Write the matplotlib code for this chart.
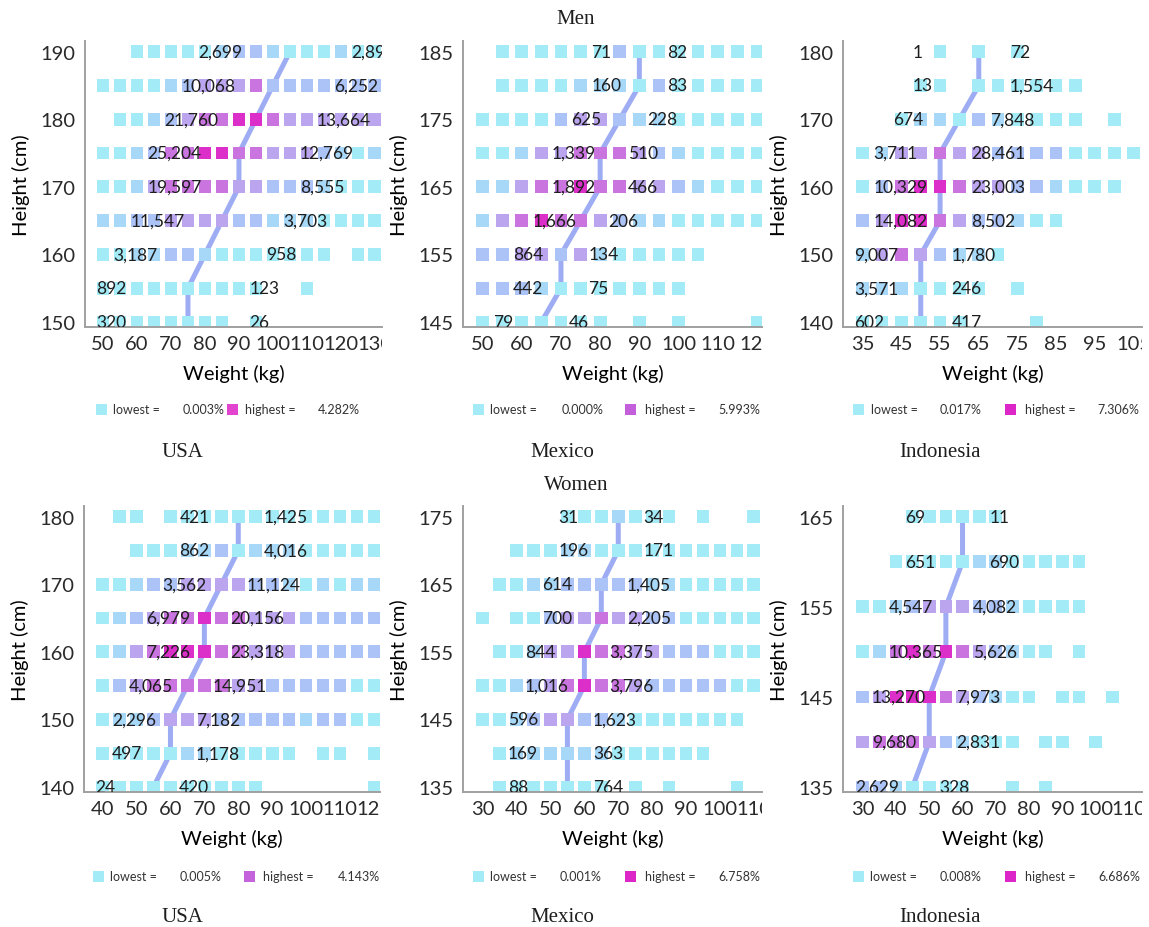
import matplotlib
matplotlib.use("Agg")
import matplotlib.pyplot as plt
from matplotlib.patches import Rectangle

W, H = 1149, 928

# ---- data ----
# cell strings: one char per weight column, '.' = no square, 0..5 = colour level (cyan -> magenta)

usa_men_heights = [190, 185, 180, 175, 170, 165, 160, 155, 150]
usa_men_weights = [50, 55, 60, 65, 70, 75, 80, 85, 90, 95, 100, 105, 110, 115, 120, 125, 130]
usa_men_cells = [
    "..000001221000100",
    "00001233342222222",
    ".0012344554333333",
    "00124455443332101",
    "00134444332221000",
    "11223333221110000",
    "00112210000000.00",
    "0000000000..0....",
    "00000000.0.......",
]
usa_men_median = [105, 100, 95, 90, 90, 85, 80, 75, 75]
usa_men_left = ["2,699", "10,068", "21,760", "25,204", "19,597", "11,547", "3,187", "892", "320"]
usa_men_right = ["2,890", "6,252", "13,664", "12,769", "8,555", "3,703", "958", "123", "26"]
usa_men_range = ["0.003%", "4.282%"]

mex_men_heights = [185, 180, 175, 170, 165, 160, 155, 150, 145]
mex_men_weights = [50, 55, 60, 65, 70, 75, 80, 85, 90, 95, 100, 105, 110, 115, 120]
mex_men_cells = [
    ".00000020000000",
    ".00001110200000",
    "000023321100000",
    "001334443210000",
    "113445443321000",
    "134544321100000",
    "223323100000...",
    "22210000000....",
    "0000000.0.0...0",
]
mex_men_median = [90, 90, 85, 80, 80, 75, 70, 70, 65]
mex_men_left = ["71", "160", "625", "1,339", "1,892", "1,666", "864", "442", "79"]
mex_men_right = ["82", "83", "228", "510", "466", "206", "134", "75", "46"]
mex_men_range = ["0.000%", "5.993%"]

idn_men_heights = [180, 175, 170, 165, 160, 155, 150, 145, 140]
idn_men_weights = [35, 40, 45, 50, 55, 60, 65, 70, 75, 80, 85, 90, 95, 100, 105]
idn_men_cells = [
    "....0.0.0......",
    "...00.000000...",
    "..0110210000.0.",
    "013343322220000",
    "02455433221000.",
    "23554322100....",
    "13432110.......",
    "1110000.0......",
    "000000...0.....",
]
idn_men_median = [65, 65, 60, 55, 55, 55, 50, 50, 50]
idn_men_left = ["1", "13", "674", "3,711", "10,329", "14,082", "9,007", "3,571", "602"]
idn_men_right = ["72", "1,554", "7,848", "28,461", "23,003", "8,502", "1,780", "246", "417"]
idn_men_range = ["0.017%", "7.306%"]

usa_wom_heights = [180, 175, 170, 165, 160, 155, 150, 145, 140]
usa_wom_weights = [40, 45, 50, 55, 60, 65, 70, 75, 80, 85, 90, 95, 100, 105, 110, 115, 120]
usa_wom_cells = [
    ".00.0000000000000",
    "..000112011100000",
    "00122333322101011",
    "01234454433322222",
    "01345554433322222",
    "02344444332222200",
    "01123332222212200",
    "000001100000.00.0",
    "0000000000......0",
]
usa_wom_median = [80, 80, 75, 70, 70, 65, 60, 60, 55]
usa_wom_left = ["421", "862", "3,562", "6,979", "7,226", "4,065", "2,296", "497", "24"]
usa_wom_right = ["1,425", "4,016", "11,124", "20,156", "23,318", "14,951", "7,182", "1,178", "420"]
usa_wom_range = ["0.005%", "4.143%"]

mex_wom_heights = [175, 170, 165, 160, 155, 150, 145, 140, 135]
mex_wom_weights = [30, 35, 40, 45, 50, 55, 60, 65, 70, 75, 80, 85, 90, 95, 100, 105, 110]
mex_wom_cells = [
    ".....0001000.0..0",
    "..000110000000000",
    ".0011222221100000",
    "0.002334332200000",
    ".0013354433222000",
    "00123454432222200",
    "0012332210000000.",
    ".0111111000000...",
    ".0000000.0.0...0.",
]
mex_wom_median = [70, 70, 65, 65, 60, 60, 55, 55, 55]
mex_wom_left = ["31", "196", "614", "700", "844", "1,016", "596", "169", "88"]
mex_wom_right = ["34", "171", "1,405", "2,205", "3,375", "3,796", "1,623", "363", "764"]
mex_wom_range = ["0.001%", "6.758%"]

idn_wom_heights = [165, 160, 155, 150, 145, 140, 135]
idn_wom_weights = [30, 35, 40, 45, 50, 55, 60, 65, 70, 75, 80, 85, 90, 95, 100, 105, 110]
idn_wom_cells = [
    "...000000........",
    "..000001100000...",
    "00123332210000...",
    "014545432100.0...",
    "23555432100.00.0.",
    "3444321000.00.0..",
    "2210000..0.0.....",
]
idn_wom_median = [60, 60, 55, 55, 50, 50, 45]
idn_wom_left = ["69", "651", "4,547", "10,365", "13,270", "9,680", "2,629"]
idn_wom_right = ["11", "690", "4,082", "5,626", "7,973", "2,831", "328"]
idn_wom_range = ["0.008%", "6.686%"]

# ---- styling ----
LEVELS = ["#a4ebf8", "#a8d8f8", "#abc3f6", "#bba5ee", "#c974df", "#dc2ec8"]
LINE = "#9eacf4"
SANS = ["Lato", "DejaVu Sans"]
SERIF = ["Liberation Serif", "DejaVu Serif"]
plt.rcParams["font.family"] = SANS
plt.rcParams["text.color"] = "#1e1e1e"


def px_box(x0, y0, x1, y1):
    return [x0 / W, 1 - y1 / H, (x1 - x0) / W, (y1 - y0) / H]


panels = [
    dict(h=usa_men_heights, w=usa_men_weights, cells=usa_men_cells, med=usa_men_median,
         left=usa_men_left, right=usa_men_right, rng=usa_men_range, hi="#e243cf",
         box=(85, 42, 382, 328), xlim=(44.7, 132.1), xt=range(50, 131, 10), yt=range(150, 191, 10),
         off=(-27, 18), leg=(11, 28, 98, 142, 160, 233), legy=410),
    dict(h=mex_men_heights, w=mex_men_weights, cells=mex_men_cells, med=mex_men_median,
         left=mex_men_left, right=mex_men_right, rng=mex_men_range, hi="#c45fdc",
         box=(463, 42, 762, 328), xlim=(45.0, 121.3), xt=range(50, 121, 10), yt=range(145, 186, 10),
         off=(-12.3, 7), leg=(10, 27, 99, 162, 182, 255), legy=410),
    dict(h=idn_men_heights, w=idn_men_weights, cells=idn_men_cells, med=idn_men_median,
         left=idn_men_left, right=idn_men_right, rng=idn_men_range, hi="#dc26c8",
         box=(843, 42, 1142, 328), xlim=(29.9, 107.2), xt=range(35, 106, 10), yt=range(140, 181, 10),
         off=(-17.2, 8), leg=(10, 28, 97, 162, 182, 254), legy=410),
    dict(h=usa_wom_heights, w=usa_wom_weights, cells=usa_wom_cells, med=usa_wom_median,
         left=usa_wom_left, right=usa_wom_right, rng=usa_wom_range, hi="#c463dc",
         box=(84, 507, 380, 793), xlim=(34.5, 121.8), xt=range(40, 121, 10), yt=range(140, 181, 10),
         off=(-17.3, 7.5), leg=(9, 26, 96, 160, 179, 254), legy=877),
    dict(h=mex_wom_heights, w=mex_wom_weights, cells=mex_wom_cells, med=mex_wom_median,
         left=mex_wom_left, right=mex_wom_right, rng=mex_wom_range, hi="#dc26c8",
         box=(463, 507, 762, 793), xlim=(24.2, 112.4), xt=range(30, 111, 10), yt=range(135, 176, 10),
         off=(-17.6, 7.5), leg=(10, 27, 97, 162, 182, 255), legy=877),
    dict(h=idn_wom_heights, w=idn_wom_weights, cells=idn_wom_cells, med=idn_wom_median,
         left=idn_wom_left, right=idn_wom_right, rng=idn_wom_range, hi="#dc26c8",
         box=(843, 507, 1142, 793), xlim=(24.1, 113.9), xt=range(30, 111, 10), yt=range(135, 166, 10),
         off=(-17.3, 8), leg=(10, 27, 97, 162, 182, 255), legy=877),
]

fig = plt.figure(figsize=(W / 100, H / 100), dpi=100)
axes = []

for p in panels:
    ax = fig.add_axes(px_box(*p["box"]))
    axes.append(ax)

    xs, ys, cs = [], [], []
    for h, row in zip(p["h"], p["cells"]):
        for w, ch in zip(p["w"], row):
            if ch != ".":
                xs.append(w)
                ys.append(h)
                cs.append(LEVELS[int(ch)])

    # median line sits behind the squares
    ax.plot(p["med"], p["h"], color=LINE, lw=3.6, zorder=1, solid_capstyle="butt")
    ax.scatter(xs, ys, marker="s", s=84, c=cs, linewidths=0, zorder=2)

    for h, m, lt, rt in zip(p["h"], p["med"], p["left"], p["right"]):
        ax.text(m + p["off"][0], h, lt, ha="left", va="center", fontsize=12.5, zorder=3, clip_on=True)
        ax.text(m + p["off"][1], h, rt, ha="left", va="center", fontsize=12.5, zorder=3, clip_on=True)

    span = max(p["h"]) - min(p["h"])
    ax.set_ylim(min(p["h"]) - 0.0185 * span, max(p["h"]) + 0.0396 * span)
    ax.set_xlim(*p["xlim"])
    ax.set_xticks(list(p["xt"]))
    ax.set_yticks(list(p["yt"]))
    ax.tick_params(length=0, labelsize=14.5, colors="#2a2a2a")
    ax.tick_params(axis="y", pad=7)
    ax.tick_params(axis="x", pad=6)
    for s in ["top", "right"]:
        ax.spines[s].set_visible(False)
    for s in ["left", "bottom"]:
        ax.spines[s].set_color("#a0a0a0")
        ax.spines[s].set_linewidth(1.4)
    ax.set_facecolor("none")

    ax.set_xlabel("Weight (kg)", fontsize=14.5)
    ax.set_ylabel("Height (cm)", fontsize=14.5)
    bw = p["box"][2] - p["box"][0]
    bh = p["box"][3] - p["box"][1]
    ax.xaxis.set_label_coords(0.5, -37 / bh)
    ax.yaxis.set_label_coords(-55 / bw, 0.5)

    # legend row under each panel
    x0 = p["box"][0]
    yc = p["legy"]
    sq = 11
    lg = p["leg"]
    for off, col in [(lg[0], LEVELS[0]), (lg[3], p["hi"])]:
        fig.add_artist(Rectangle(((x0 + off) / W, 1 - (yc + sq / 2) / H), sq / W, sq / H,
                                 transform=fig.transFigure, color=col, lw=0))
    for off, txt in [(lg[1], "lowest ="), (lg[2], p["rng"][0]),
                     (lg[4], "highest ="), (lg[5], p["rng"][1])]:
        fig.text((x0 + off) / W, 1 - yc / H, txt, ha="left", va="center", fontsize=9, color="#333333")

# titles
fig.text(576 / W, 1 - 19 / H, "Men", ha="center", va="center", fontsize=15, family=SERIF)
fig.text(576 / W, 1 - 485 / H, "Women", ha="center", va="center", fontsize=15, family=SERIF)
for yy in (453, 918):
    for xx, name in [(182, "USA"), (562, "Mexico"), (940, "Indonesia")]:
        fig.text(xx / W, 1 - yy / H, name, ha="center", va="center", fontsize=15, family=SERIF)

# tick labels are cut off at the right edge of each panel
fig.canvas.draw()
for ax in axes:
    bb = ax.get_position()
    clip = Rectangle((0, 0), bb.x1, 1, transform=fig.transFigure)
    for lbl in ax.get_xticklabels():
        lbl.set_clip_on(True)
        lbl.set_clip_path(clip)

fig.savefig("out.png", dpi=100)
